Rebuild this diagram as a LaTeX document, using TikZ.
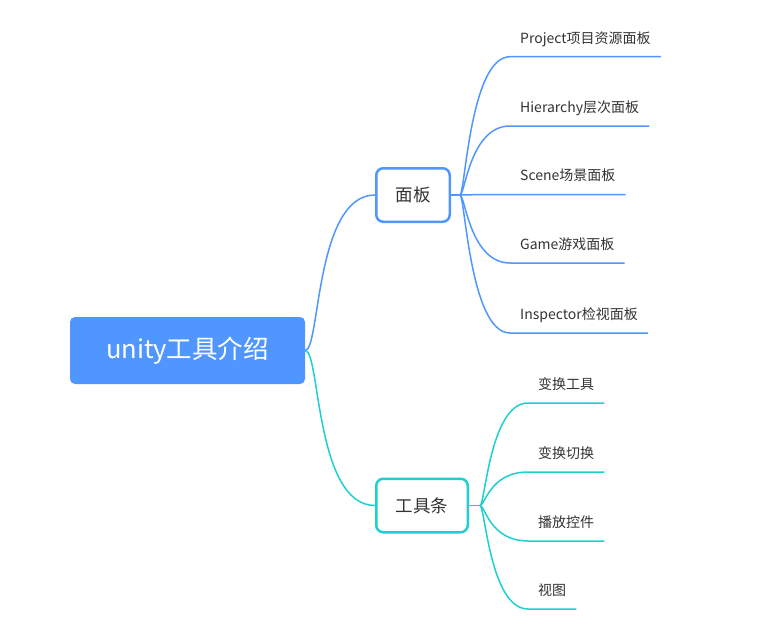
\documentclass[tikz,border=0pt]{standalone}
\usepackage{fontspec}
\setmainfont{Noto Sans CJK SC}
\definecolor{cblue}{RGB}{80,150,255}
\definecolor{cteal}{RGB}{30,208,208}
\definecolor{ctext}{RGB}{51,51,51}
\begin{document}
\begin{tikzpicture}[x=1pt,y=-1pt,
  rootbox/.style={fill=cblue,rounded corners=5pt,minimum width=235pt,minimum height=67pt,text=white,font=\fontsize{25.5}{28}\selectfont,inner sep=0pt},
  midbox/.style={draw=#1,line width=2.5pt,rounded corners=7pt,fill=white,text=ctext,font=\fontsize{17.5}{20}\selectfont,minimum height=53.5pt,inner sep=0pt},
  leaf/.style={anchor=south west,inner xsep=10pt,inner ysep=11.5pt,text height=12pt,text depth=2pt,text=ctext,font=\fontsize{14}{16}\selectfont},
  bl/.style={draw=cblue,line width=1.5pt},
  tl/.style={draw=cteal,line width=1.5pt}]
\useasboundingbox (0,0) rectangle (769,640);
\node[rootbox] (root) at (187.5,350.5) {unity工具介绍};
\node[midbox=cblue,minimum width=73.5pt] (mb) at (413,195) {面板};
\node[midbox=cteal,minimum width=91.5pt] (gj) at (422,505.5) {工具条};
% panel leaves
\node[leaf] (p1) at (510,56.7) {Project项目资源面板};
\node[leaf] (p2) at (510,126) {Hierarchy层次面板};
\node[leaf] (p3) at (510,194.5) {Scene场景面板};
\node[leaf] (p4) at (510,263) {Game游戏面板};
\node[leaf] (p5) at (510,333) {Inspector检视面板};
% toolbar leaves
\node[leaf] (t1) at (528,403) {变换工具};
\node[leaf] (t2) at (528,472) {变换切换};
\node[leaf] (t3) at (528,541) {播放控件};
\node[leaf] (t4) at (528,609) {视图};
% root connectors
\draw[bl] (root.east) .. controls +(15,0) and +(-60,0) .. (mb.west);
\draw[tl] (root.east) .. controls +(15,0) and +(-60,0) .. (gj.west);
% panel branch
\draw[bl] (mb.east) -- ++(9,0) coordinate (b1);
\foreach \n in {p1,p2,p3,p4,p5}
  \draw[bl] (b1) .. controls +(5,0) and +(-40,0) .. (\n.south west) -- (\n.south east);
% toolbar branch
\draw[tl] (gj.east) -- ++(11,0) coordinate (b2);
\foreach \n in {t1,t2,t3,t4}
  \draw[tl] (b2) .. controls +(5,0) and +(-38,0) .. (\n.south west) -- (\n.south east);
\end{tikzpicture}
\end{document}
